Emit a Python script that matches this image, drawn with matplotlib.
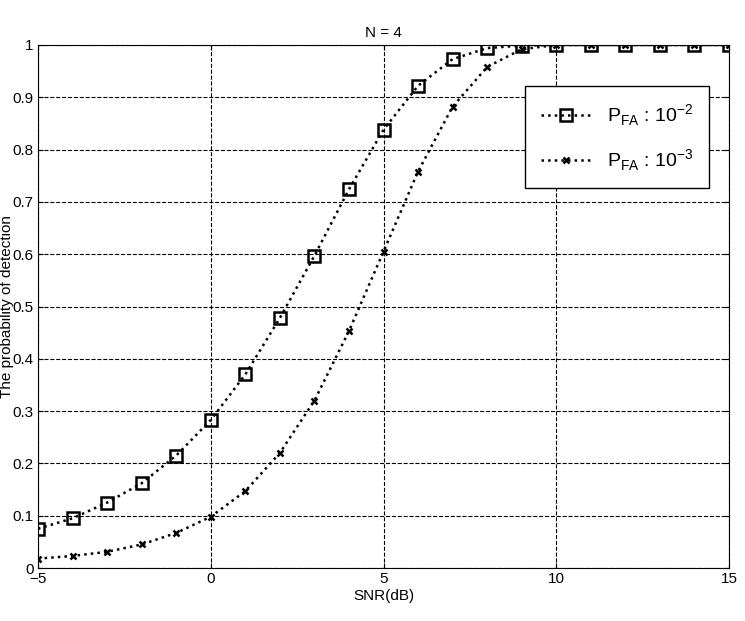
import numpy as np
import matplotlib.pyplot as plt

snr = list(range(-5, 16))
pd_1e2 = [0.075, 0.095, 0.125, 0.162, 0.215, 0.283, 0.37, 0.478, 0.597, 0.724, 0.838,
          0.922, 0.973, 0.994, 0.999, 1, 1, 1, 1, 1, 1]
pd_1e3 = [0.018, 0.023, 0.031, 0.045, 0.067, 0.098, 0.147, 0.22, 0.32, 0.453, 0.605,
          0.758, 0.882, 0.958, 0.992, 1, 1, 1, 1, 1, 1]

plt.rcParams['font.family'] = 'Liberation Sans'
fig = plt.figure(figsize=(7.45, 6.21), dpi=100)
ax = fig.add_axes([38/745, 1-568/621, 691/745, 523/621])

ax.plot(snr, pd_1e2, ':', color='black', lw=1.8, marker='s', ms=9, mfc='none', mew=1.8,
        label=r'P$_{\mathregular{FA}}$ : 10$^{\mathregular{-2}}$')
ax.plot(snr, pd_1e3, ':', color='black', lw=1.8, marker='x', ms=4, mew=1.8,
        label=r'P$_{\mathregular{FA}}$ : 10$^{\mathregular{-3}}$')

ax.set_xlim(-5, 15)
ax.set_ylim(0, 1)
ax.set_xticks([-5, 0, 5, 10, 15])
ax.set_yticks(np.arange(0, 1.01, 0.1))
ax.set_yticklabels(['0', '0.1', '0.2', '0.3', '0.4', '0.5', '0.6', '0.7', '0.8', '0.9', '1'])
ax.grid(True, ls='--', color='black', lw=0.8)
ax.tick_params(direction='in', labelsize=11, top=True, right=True, pad=3)
ax.set_xlabel('SNR(dB)', fontsize=11, labelpad=2)
ax.set_ylabel('The probability of detection', fontsize=11)
ax.yaxis.set_label_coords(-0.035, 0.5)
ax.set_title('N = 4', fontsize=11)
leg = ax.legend(loc='upper right', bbox_to_anchor=(0.985, 0.94), fontsize=14,
                fancybox=False, edgecolor='black', framealpha=1, handlelength=2.6,
                labelspacing=1.0, borderpad=0.8)
leg.get_frame().set_linewidth(1)

fig.savefig('out.png', dpi=100)
